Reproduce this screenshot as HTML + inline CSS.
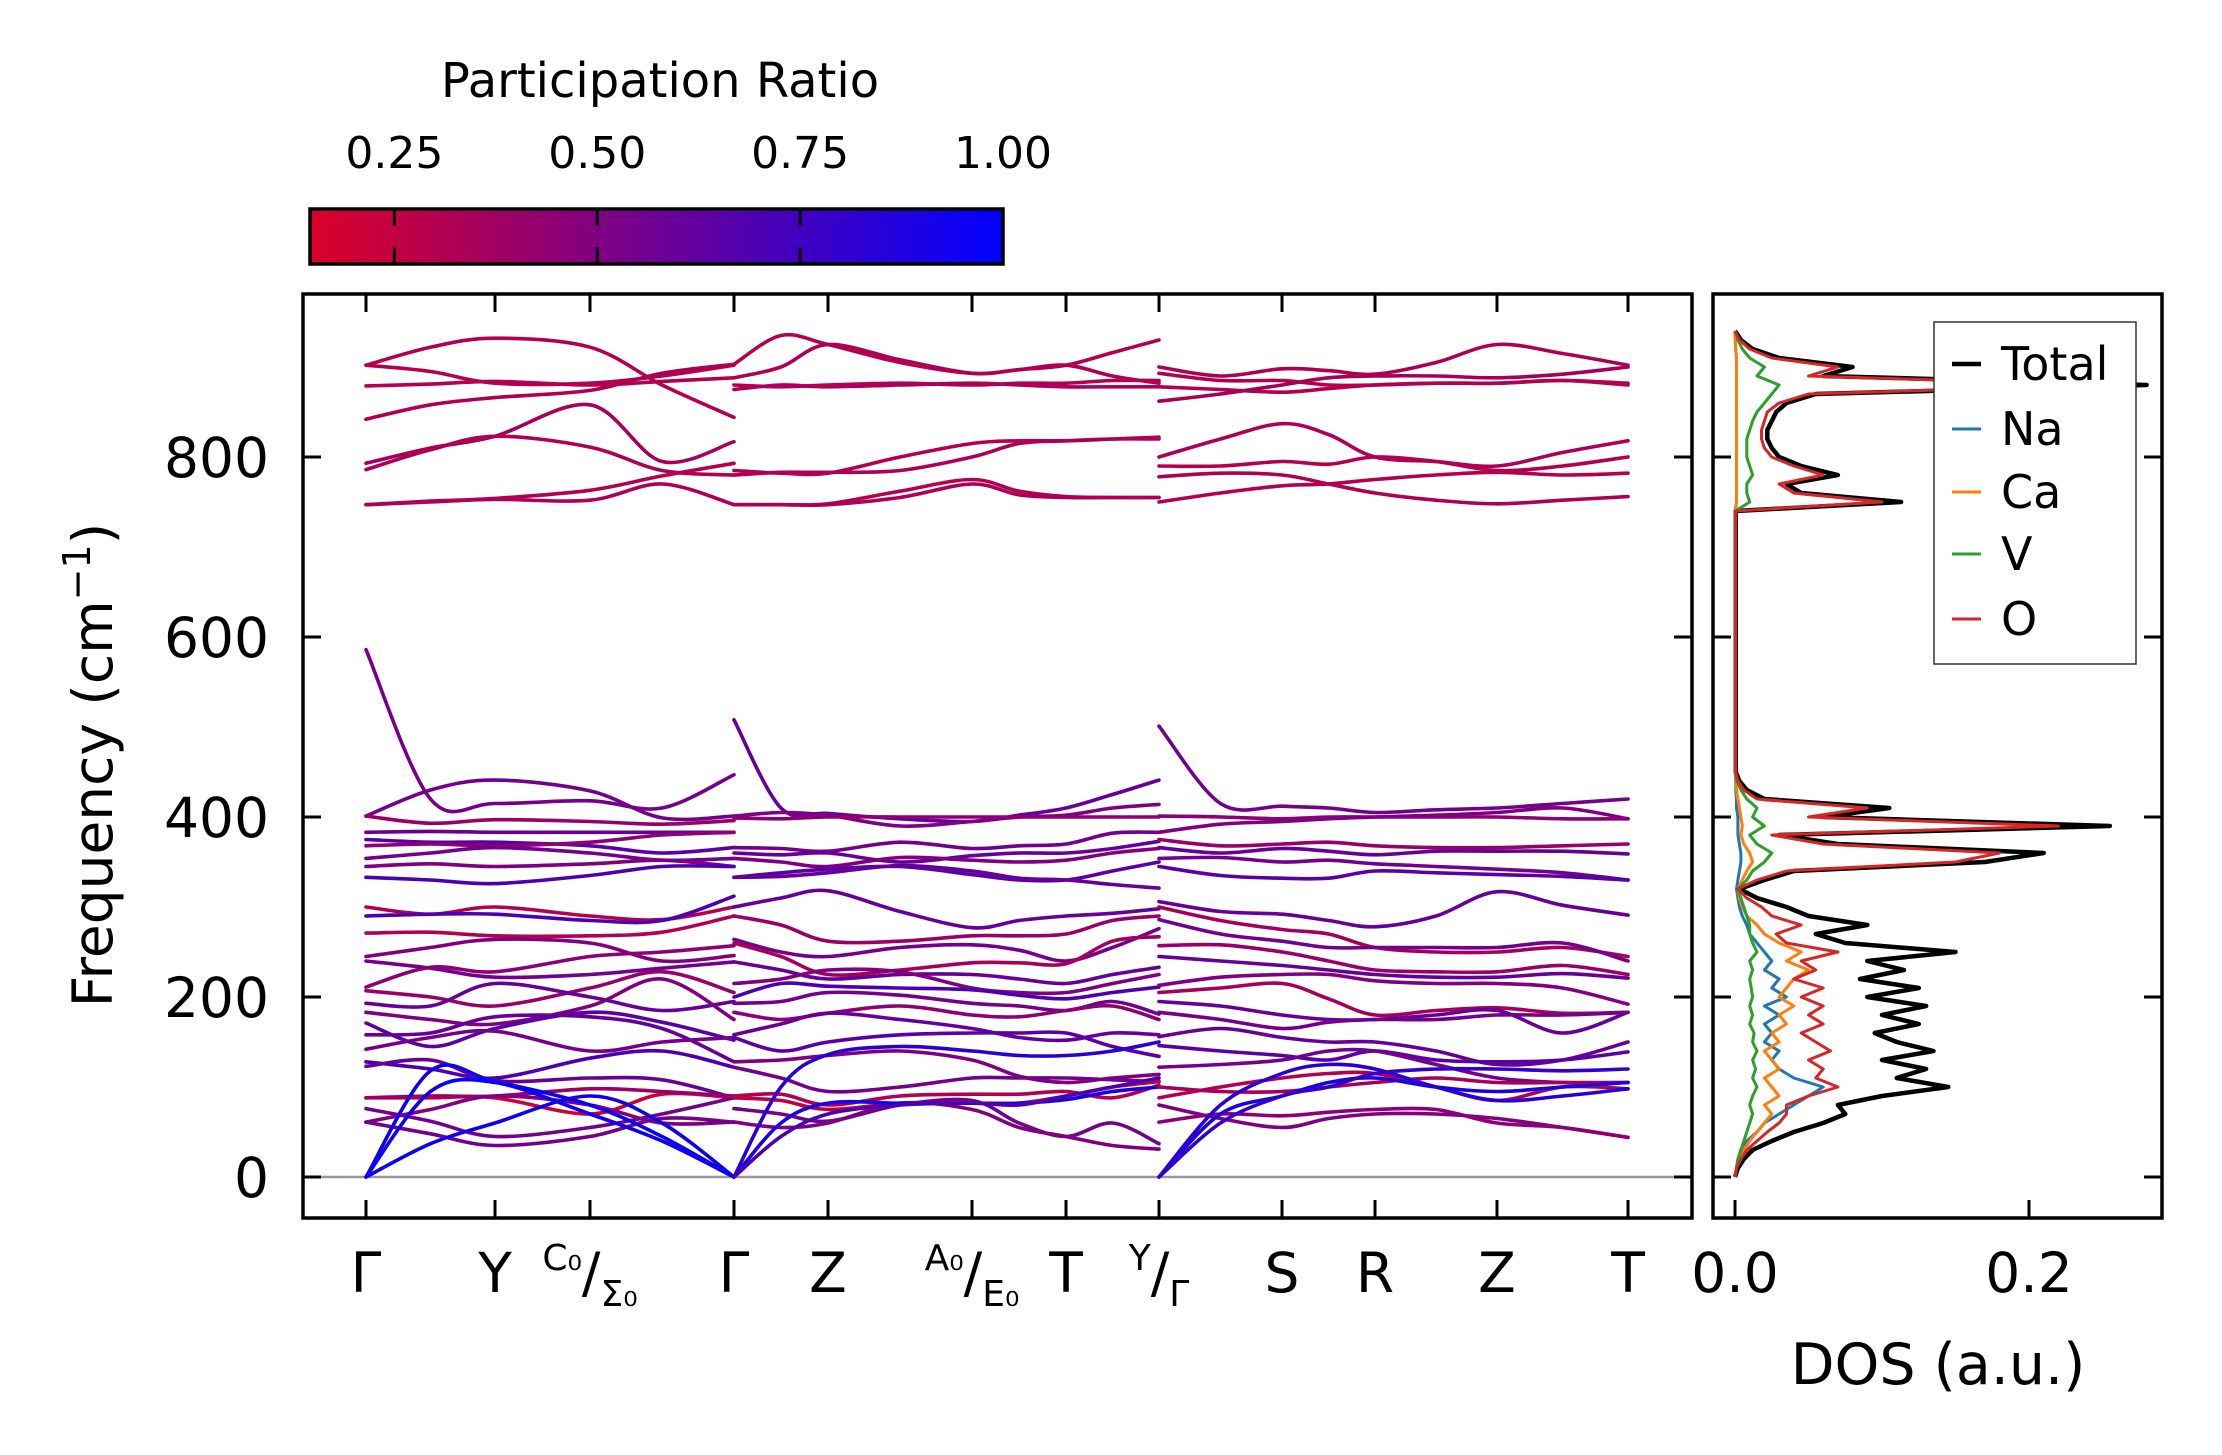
<!DOCTYPE html>
<html><head><meta charset="utf-8"><title>Phonon bands and DOS</title>
<style>
html,body{margin:0;padding:0;background:#fff;}
svg{display:block;font-family:"DejaVu Sans","Liberation Sans",sans-serif;}
</style></head>
<body>
<svg id="fig" width="2222" height="1455" viewBox="0 0 2222 1455" xmlns="http://www.w3.org/2000/svg">
<defs>
<linearGradient id="cbgrad" x1="0" x2="1" y1="0" y2="0">
<stop offset="0" stop-color="rgb(220,0,40)"/><stop offset="1" stop-color="rgb(0,0,255)"/>
</linearGradient>
<clipPath id="bandclip"><rect x="303" y="294" width="1389" height="924"/></clipPath>
<clipPath id="dosclip"><rect x="1713" y="294" width="449" height="924"/></clipPath>
</defs>
<g id="colorbar">
<text x="660" y="97" font-size="48" text-anchor="middle">Participation Ratio</text>
<rect x="310" y="209" width="693" height="55" fill="url(#cbgrad)" stroke="#000" stroke-width="3.5"/>
</g>
<g id="bandsG"></g>
<g id="dosG"></g>
</svg>
<script>
// ---------- data ----------
const kTicks = [0, 1.29, 2.24, 3.68, 4.62, 6.06, 7.00, 7.93, 9.16, 10.09, 11.31, 12.62];
const kLabels = ["Γ","Y","C0/Σ0","Γ","Z","A0/E0","T","Y/Γ","S","R","Z","T"];
const yTicks = [0, 200, 400, 600, 800];
const cbTicks = [0.25, 0.50, 0.75, 1.00];
const cbTickLabels = ["0.25", "0.50", "0.75", "1.00"];

// Panel 1: Γ - Y - C0 - Γ (nodes: Γ, mid, Y, C0, mid, Γ)
const p1Bands = [
 [902,922,932,922,880,844],[902,895,882,882,890,902],[879,881,884,880,884,888],
 [842,858,866,874,893,903],[793,810,823,858,795,817],[786,808,823,811,785,780],
 [747,751,754,763,779,793],[747,750,753,752,770,747],
 [586,420,415,418,410,447],[401,430,441,429,399,401],[401,393,397,395,392,396],
 [383,384,383,383,383,383],[375,372,372,368,360,366],[368,370,368,372,380,383],
 [354,360,366,360,352,354],[345,348,345,348,352,345],[333,330,326,335,345,345],
 [300,292,300,290,286,300],[290,292,292,285,285,312],[271,272,268,268,272,290],
 [245,255,264,260,240,246],[240,232,222,225,232,239],[211,233,228,245,250,257],
 [207,200,190,210,228,205],[193,190,215,200,185,195],[183,175,170,190,220,175],
 [171,145,165,183,172,152],[158,160,178,178,165,128],[142,155,162,140,150,155],
 [128,120,110,132,140,122],[123,130,107,110,108,88],[88,88,88,70,92,88],
 [88,90,90,98,95,90],[76,62,45,55,70,88],[61,75,90,80,60,61],[61,48,35,45,65,61],
 [0,118,106,80,45,0],[0,95,105,70,40,0],[0,37,60,90,60,0]
];
const p1PR = [0.3,0.3,0.3,0.32,0.35,0.32,0.3,0.33,
 0.55,0.55,0.4,0.6,0.65,0.45,0.55,0.5,0.7,0.3,0.7,0.3,0.5,0.55,0.45,0.4,0.6,0.5,0.65,0.6,0.55,0.7,0.6,0.2,0.4,0.55,0.5,0.55,0.95,0.95,0.95];

// Panel 2: Γ - Z - A0 - T - Y (nodes with midpoints)
const p2Bands = [
 [903,935,925,905,893,897,902,916,930],[888,900,925,908,893,897,902,890,882],
 [880,878,880,882,880,882,882,885,885],[875,880,878,880,882,880,878,878,878],
 [785,782,782,800,815,818,818,820,822],[780,783,783,785,800,815,818,820,820],
 [747,747,748,762,775,762,756,755,755],[747,747,747,755,770,758,755,755,755],
 [508,410,404,398,395,402,410,425,441],[401,405,402,390,395,400,402,410,414],
 [399,398,400,400,400,400,400,400,400],[366,365,362,372,365,368,370,382,383],
 [360,358,360,350,357,360,360,365,373],[354,350,345,355,352,350,352,360,365],
 [333,338,342,345,336,330,330,340,350],[333,334,338,346,340,332,330,325,321],
 [300,310,318,295,277,285,290,293,298],[290,280,262,262,268,268,270,285,290],
 [264,250,245,255,258,252,240,255,276],[260,245,225,230,238,238,237,262,267],
 [239,230,220,225,225,220,215,225,233],[215,220,230,228,210,205,205,215,225],
 [200,215,212,210,208,202,198,205,211],[193,195,205,202,193,190,185,195,181],
 [183,175,182,190,180,178,185,190,175],[158,170,182,175,165,155,152,160,158],
 [155,140,150,158,160,160,160,145,134],[128,130,135,140,130,112,105,110,114],
 [122,110,95,100,110,110,110,108,106],[90,92,80,90,92,92,95,88,102],
 [76,70,62,80,85,60,45,60,37],[61,55,60,82,75,55,45,35,31],
 [88,85,75,82,82,82,90,100,106],
 [0,60,82,82,82,82,86,95,100],[0,100,136,145,140,135,135,140,150],[0,45,70,80,82,80,90,100,110]
];
const p2PR = [0.3,0.32,0.3,0.33,0.3,0.32,0.3,0.33,
 0.6,0.5,0.45,0.55,0.6,0.5,0.65,0.6,0.6,0.4,0.55,0.35,0.6,0.5,0.7,0.55,0.45,0.6,0.65,0.5,0.55,0.3,0.55,0.5,0.25,0.9,0.85,0.7];

// Panel 3: Γ - S - R - Z - T
const p3Bands = [
 [900,890,898,896,892,905,925,915,902],[893,885,885,880,880,882,882,885,882],
 [878,875,872,876,880,882,882,885,880],[862,870,880,888,890,890,888,892,900],
 [800,820,837,825,800,795,790,805,818],[790,790,795,792,800,795,785,790,800],
 [778,782,780,770,760,752,748,752,756],[750,760,768,770,775,780,783,780,782],
 [501,415,412,410,405,408,410,415,420],[401,400,398,400,400,400,400,398,398],
 [383,392,395,398,400,402,405,410,398],[375,368,370,372,368,366,366,368,370],
 [366,360,365,362,358,362,362,362,359],[354,355,350,352,348,345,342,338,330],
 [345,335,332,332,340,338,336,334,330],[306,295,292,285,278,290,317,302,291],
 [300,285,275,270,255,250,250,255,245],[286,270,262,255,255,255,255,260,240],
 [257,258,250,240,230,228,228,235,225],[245,240,235,230,225,222,222,226,221],
 [213,222,225,225,218,215,215,210,192],[205,210,215,198,180,185,188,182,183],
 [195,190,180,175,175,180,185,160,183],[183,175,165,172,175,175,180,180,183],
 [156,165,155,150,150,140,125,130,150],[146,140,135,130,140,130,128,130,139],
 [122,125,130,140,140,125,110,105,105],[88,100,110,115,115,100,85,100,98],
 [80,65,55,65,70,70,65,55,44],[61,70,68,72,75,75,60,55,44],
 [100,95,95,100,105,110,105,105,105],
 [0,70,90,105,110,100,95,100,105],[0,80,115,125,120,100,85,90,98],[0,60,90,100,115,120,120,118,120]
];
const p3PR = [0.32,0.3,0.3,0.35,0.33,0.3,0.32,0.3,
 0.55,0.45,0.5,0.4,0.6,0.55,0.65,0.6,0.35,0.55,0.4,0.6,0.5,0.35,0.6,0.55,0.6,0.65,0.55,0.3,0.5,0.45,0.35,0.9,0.85,0.8];

// DOS on a 10 cm^-1 grid (0..940)
const dosFreqStep = 10;
const dosTotal = [0,.002,.006,.012,.025,.04,.06,.075,.07,.1,.145,.11,.13,.1,.135,.11,.095,.125,.1,.13,.09,.125,.085,.115,.09,.15,.075,.055,.09,.05,.035,.015,.003,.02,.04,.17,.21,.07,.03,.255,.06,.105,.02,.008,.003,
 .0005,.0005,.0005,.0005,.0005,.0005,.0005,.0005,.0005,.0005,.0005,.0005,.0005,.0005,.0005,.0005,.0005,.0005,.0005,.0005,.0005,.0005,.0005,.0005,.0005,.0005,.0005,.0005,.0005,.0005,
 .113,.045,.035,.07,.045,.03,.025,.022,.022,.025,.028,.035,.055,.28,.06,.08,.03,.012,.004,0];
const dosO = [0,.001,.004,.008,.015,.022,.03,.035,.035,.05,.07,.055,.06,.05,.065,.055,.045,.06,.05,.06,.045,.06,.04,.055,.045,.07,.035,.028,.045,.025,.018,.008,.002,.015,.035,.15,.18,.06,.025,.22,.05,.09,.015,.006,.002,
 .0004,.0004,.0004,.0004,.0004,.0004,.0004,.0004,.0004,.0004,.0004,.0004,.0004,.0004,.0004,.0004,.0004,.0004,.0004,.0004,.0004,.0004,.0004,.0004,.0004,.0004,.0004,.0004,.0004,.0004,
 .1,.04,.03,.06,.04,.025,.02,.018,.018,.02,.022,.03,.05,.25,.05,.07,.025,.01,.003,0];
const dosNa = [0,.001,.002,.004,.008,.015,.02,.03,.04,.05,.06,.04,.03,.025,.03,.02,.025,.02,.03,.02,.035,.025,.03,.02,.025,.02,.015,.01,.008,.005,.003,.002,.001,.002,.003,.004,.004,.003,.002,.002,.002,.001,.001,.0005,.0005,
 .0002,.0002,.0002,.0002,.0002,.0002,.0002,.0002,.0002,.0002,.0002,.0002,.0002,.0002,.0002,.0002,.0002,.0002,.0002,.0002,.0002,.0002,.0002,.0002,.0002,.0002,.0002,.0002,.0002,.0002,
 .001,.001,.001,.001,.001,.001,.001,.001,.001,.001,.001,.001,.001,.001,.001,.001,.001,.0005,.0002,0];
const dosCa = [0,.001,.003,.006,.01,.015,.02,.025,.02,.03,.025,.02,.03,.025,.02,.03,.025,.035,.03,.04,.03,.035,.04,.05,.035,.045,.03,.02,.015,.008,.005,.003,.002,.005,.008,.012,.01,.006,.004,.005,.004,.003,.002,.001,.0005,
 .0002,.0002,.0002,.0002,.0002,.0002,.0002,.0002,.0002,.0002,.0002,.0002,.0002,.0002,.0002,.0002,.0002,.0002,.0002,.0002,.0002,.0002,.0002,.0002,.0002,.0002,.0002,.0002,.0002,.0002,
 .001,.001,.001,.001,.001,.001,.001,.001,.001,.001,.001,.001,.001,.001,.001,.001,.001,.0005,.0002,0];
const dosV = [0,.001,.002,.004,.006,.008,.01,.012,.01,.012,.015,.012,.014,.012,.015,.012,.013,.01,.012,.01,.012,.011,.01,.012,.01,.015,.012,.01,.01,.008,.006,.004,.002,.008,.012,.02,.025,.015,.01,.02,.012,.015,.008,.004,.001,
 .0003,.0003,.0003,.0003,.0003,.0003,.0003,.0003,.0003,.0003,.0003,.0003,.0003,.0003,.0003,.0003,.0003,.0003,.0003,.0003,.0003,.0003,.0003,.0003,.0003,.0003,.0003,.0003,.0003,.0003,
 .01,.008,.008,.012,.01,.008,.008,.008,.01,.012,.015,.02,.025,.03,.015,.02,.01,.005,.002,0];
const dosNames = ["Total","Na","Ca","V","O"];
const dosTicks = [0.0, 0.2];
const dosTickLabels = ["0.0","0.2"];

// ---------- scales ----------
const NS = "http://www.w3.org/2000/svg";
const AX = {l:303, r:1692, t:294, b:1218};
const DX = {l:1713, r:2162, t:294, b:1218};
const K0 = 366, KPX = 100;
function xK(k){ return K0 + k*KPX; }
function yF(f){ return 1177 - f*0.9; }
function xD(v){ return 1735 + v*1470; }
function cbX(v){ return 310 + (v-0.146)/(1-0.146)*693; }
function prColor(v){
  let t=(v-0.146)/(1-0.146); t=Math.max(0,Math.min(1,t));
  return "rgb("+Math.round(220*(1-t))+",0,"+Math.round(40+215*t)+")";
}
function el(tag, attrs, parent){
  const e=document.createElementNS(NS,tag);
  for(const a in attrs) e.setAttribute(a, attrs[a]);
  parent.appendChild(e); return e;
}
function smoothPath(pts){
  let d="M"+pts[0][0].toFixed(1)+","+pts[0][1].toFixed(1);
  for(let i=0;i<pts.length-1;i++){
    const p0=pts[Math.max(0,i-1)], p1=pts[i], p2=pts[i+1], p3=pts[Math.min(pts.length-1,i+2)];
    const c1=[p1[0]+(p2[0]-p0[0])/6, p1[1]+(p2[1]-p0[1])/6];
    const c2=[p2[0]-(p3[0]-p1[0])/6, p2[1]-(p3[1]-p1[1])/6];
    d+=" C"+c1[0].toFixed(1)+","+c1[1].toFixed(1)+" "+c2[0].toFixed(1)+","+c2[1].toFixed(1)+" "+p2[0].toFixed(1)+","+p2[1].toFixed(1);
  }
  return d;
}

// ---------- colorbar ticks ----------
const cb=document.getElementById("colorbar");
cbTicks.forEach((v,i)=>{
  const x=cbX(v);
  if(v<0.99){
    const t1=el("line",{x1:x,x2:x,y1:209,y2:226,stroke:"#000","stroke-width":3},cb);
    
    
    const t2=el("line",{x1:x,x2:x,y1:247,y2:264,stroke:"#000","stroke-width":3},cb);
    
    
  }
  const tx=el("text",{x:x,y:168,"font-size":44,"text-anchor":"middle"},cb);
  tx.textContent=cbTickLabels[i];
  
  
});

// ---------- band plot ----------
const bg=document.getElementById("bandsG");
const zl=el("line",{x1:AX.l,x2:AX.r,y1:yF(0),y2:yF(0),stroke:"#999","stroke-width":2.5},bg);


const lineG=el("g",{"clip-path":"url(#bandclip)",fill:"none","stroke-width":3.6,"stroke-linecap":"round"},bg);


function panelNodes(tickIdx, withMidAt){
  const ks=[];
  for(let i=0;i<tickIdx.length;i++){
    ks.push(kTicks[tickIdx[i]]);
    if(i<tickIdx.length-1 && withMidAt.includes(i)) ks.push((kTicks[tickIdx[i]]+kTicks[tickIdx[i+1]])/2);
  }
  return ks;
}
const panels=[
  {ks:panelNodes([0,1,2,3],[0,2]), bands:p1Bands, pr:p1PR},
  {ks:panelNodes([3,4,5,6,7],[0,1,2,3]), bands:p2Bands, pr:p2PR},
  {ks:panelNodes([7,8,9,10,11],[0,1,2,3]), bands:p3Bands, pr:p3PR}
];
panels.forEach((P,pi)=>{
  P.bands.forEach((b,bi)=>{
    const pts=b.map((f,j)=>[xK(P.ks[j]), yF(f)]);
    const p=el("path",{d:smoothPath(pts),stroke:prColor(P.pr[bi])},lineG);
    
    
  });
});
const fr=el("rect",{x:AX.l,y:AX.t,width:AX.r-AX.l,height:AX.b-AX.t,fill:"none",stroke:"#000","stroke-width":3.5},bg);


yTicks.forEach(v=>{
  const y=yF(v);
  const a=el("line",{x1:AX.l,x2:AX.l+18,y1:y,y2:y,stroke:"#000","stroke-width":3},bg);
  
  
  const b=el("line",{x1:AX.r-18,x2:AX.r,y1:y,y2:y,stroke:"#000","stroke-width":3},bg);
  
  
  const t=el("text",{x:269,y:y+20,"font-size":55,"text-anchor":"end"},bg);
  t.textContent=String(v);
  
  
});
const yl=el("text",{x:0,y:0,"font-size":55,"text-anchor":"middle",transform:"translate(112,765) rotate(-90)"},bg);
yl.innerHTML='Frequency (cm<tspan baseline-shift="super" font-size="38">−1</tspan>)';


kTicks.forEach((k,i)=>{
  const x=xK(k);
  const a=el("line",{x1:x,x2:x,y1:AX.t,y2:AX.t+18,stroke:"#000","stroke-width":3},bg);
  
  
  const b=el("line",{x1:x,x2:x,y1:AX.b-18,y2:AX.b,stroke:"#000","stroke-width":3},bg);
  
  
  const lab=kLabels[i];
  let t;
  if(lab.indexOf("/")>=0){
    const parts=lab.split("/");
    t=el("text",{x:x,y:1292,"font-size":55,"text-anchor":"middle"},bg);
    const sub=s=>s.replace("0","₀");
    t.innerHTML='<tspan font-size="36" dy="-22">'+sub(parts[0])+'</tspan><tspan dy="22">/</tspan><tspan font-size="36" dy="14">'+sub(parts[1])+'</tspan>';
  } else {
    t=el("text",{x:x,y:1292,"font-size":55,"text-anchor":"middle"},bg);
    t.textContent=lab;
  }
  
  
});

// ---------- DOS plot ----------
const dg=document.getElementById("dosG");
const dosLines=el("g",{"clip-path":"url(#dosclip)",fill:"none","stroke-linejoin":"round"},dg);


const series=[
  {v:dosTotal,c:"#000",w:4.5,n:"dos-total"},
  {v:dosNa,c:"#1f77b4",w:3,n:"dos-na"},
  {v:dosCa,c:"#ff7f0e",w:3,n:"dos-ca"},
  {v:dosV,c:"#2ca02c",w:3,n:"dos-v"},
  {v:dosO,c:"#d62728",w:3,n:"dos-o"}
];
series.forEach(s=>{
  const pts=s.v.map((v,i)=>xD(v).toFixed(1)+","+yF(i*dosFreqStep).toFixed(1)).join(" ");
  const p=el("polyline",{points:pts,stroke:s.c,"stroke-width":s.w},dosLines);
  
  
});
const dfr=el("rect",{x:DX.l,y:DX.t,width:DX.r-DX.l,height:DX.b-DX.t,fill:"none",stroke:"#000","stroke-width":3.5},dg);


yTicks.forEach(v=>{
  const y=yF(v);
  const a=el("line",{x1:DX.l,x2:DX.l+18,y1:y,y2:y,stroke:"#000","stroke-width":3},dg);
  
  
  const b=el("line",{x1:DX.r-18,x2:DX.r,y1:y,y2:y,stroke:"#000","stroke-width":3},dg);
  
  
});
dosTicks.forEach((v,i)=>{
  const x=xD(v);
  const a=el("line",{x1:x,x2:x,y1:DX.b-18,y2:DX.b,stroke:"#000","stroke-width":3},dg);
  
  
  const t=el("text",{x:x,y:1292,"font-size":55,"text-anchor":"middle"},dg);
  t.textContent=dosTickLabels[i];
  
  
});
const dl=el("text",{x:1938,y:1384,"font-size":57,"text-anchor":"middle"},dg);
dl.textContent="DOS (a.u.)";


const lg=el("g",{},dg);


el("rect",{x:1934,y:322,width:202,height:342,fill:"#fff",stroke:"#333","stroke-width":1.5},lg);
const legY=[364,429,492,554,619];
series.forEach((s,i)=>{
  const g=el("g",{},lg);
  
  
  el("line",{x1:1952,x2:1981,y1:legY[i],y2:legY[i],stroke:s.c,"stroke-width":s.w},g);
  const t=el("text",{x:2001,y:legY[i]+16,"font-size":46},g);
  t.textContent=dosNames[i];
});
</script>
</body></html>
